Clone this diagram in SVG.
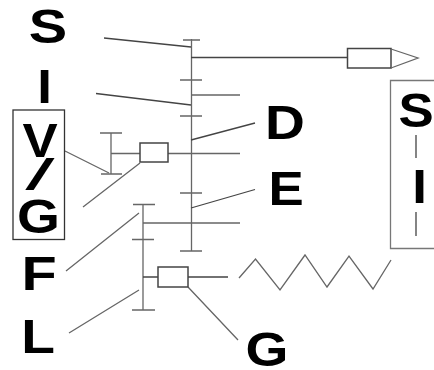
<svg xmlns="http://www.w3.org/2000/svg" width="434" height="370" viewBox="0 0 434 370">
<style>
.t{font-family:"Liberation Sans",Arial,sans-serif;font-weight:700;font-size:48px;fill:#000;text-anchor:middle}
.l{stroke:#666;stroke-width:1.300;fill:none}
.d{stroke:#444;stroke-width:1.300;fill:none}
.b{fill:#fff;stroke:#444;stroke-width:1.500}
</style>
<rect width="434" height="370" fill="#fff"/>
<g id="connectors">
<path class="l" d="M191.500 39V251M183 40H200M180 80H202M180 116H202M180 193H202M180 251H202"/>
<path class="d" d="M191 57.500H348"/>
<path class="l" d="M191 95H240M168 153.500H240M143 223H240"/>
<path class="l" d="M111 133V174M100 133H122M101 174H122M111 153.500H140"/>
<path class="l" d="M143 204V310M133 204.500H155M132 239.500H154M132 310H155"/>
<path class="d" d="M143 277H158M188 277H228"/>
<path class="d" d="M104 38L191 47M96 93.500L191 105M191 140L255 123M191 208L255 189.500"/>
<path class="l" d="M65 151L109 173M83 207L140 163M66 271L139 213M69 333L139 290M188 287L238 340"/>
<path class="l" d="M239 278L255.500 259L280 290L305 255L327 287L349 256L373 289L391 260"/>
</g>
<g id="node-s"><text class="t" transform="translate(48 43) scale(1.200 1)">S</text></g>
<g id="node-i"><text class="t" transform="translate(44.500 103) scale(1.100 1)">I</text></g>
<g id="node-vg">
<rect x="13" y="110" width="51.500" height="129.500" fill="#fff" stroke="#333" stroke-width="1.300"/>
<text class="t" transform="translate(40 157) scale(1.100 1)">V</text>
<text class="t" transform="translate(40 190) scale(2.400 1)" style="font-weight:400;font-size:44px">/</text>
<text class="t" transform="translate(38.500 233) scale(1.150 1)">G</text>
</g>
<g id="node-box-top"><rect class="b" x="140" y="143" width="28" height="19"/></g>
<g id="node-box-bottom"><rect class="b" x="158" y="267" width="30" height="20"/></g>
<g id="node-arrow">
<rect class="b" x="347.500" y="48.500" width="43.500" height="19.500"/>
<path class="l" d="M391 49L418 58L391 68"/>
</g>
<g id="node-d"><text class="t" transform="translate(285 139) scale(1.150 1)">D</text></g>
<g id="node-e"><text class="t" transform="translate(286 205) scale(1.100 1)">E</text></g>
<g id="node-f"><text class="t" transform="translate(39 290) scale(1.200 1)">F</text></g>
<g id="node-l"><text class="t" transform="translate(38 353) scale(1.150 1)">L</text></g>
<g id="node-g"><text class="t" transform="translate(267 366) scale(1.150 1)">G</text></g>
<g id="node-sli">
<path d="M434 80.500H390.500V248.500H434" fill="none" stroke="#777" stroke-width="1.300"/>
<text class="t" transform="translate(416 127) scale(1.100 1)">S</text>
<path class="d" d="M416 135V158M416 212V236"/>
<text class="t" transform="translate(419.500 203) scale(1.100 1)">I</text>
</g>
</svg>
